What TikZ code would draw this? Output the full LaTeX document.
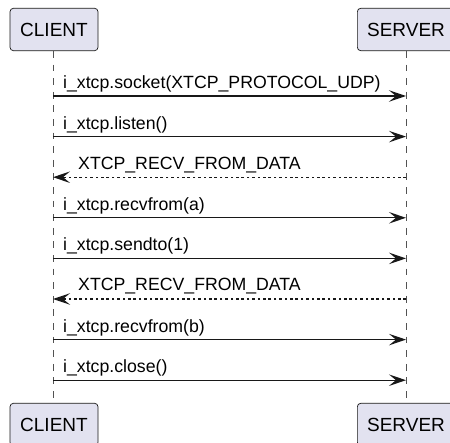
\documentclass[tikz,border=0pt]{standalone}
\usepackage{fontspec}
\setmainfont{Liberation Sans}
\usetikzlibrary{arrows.meta}
\definecolor{partfill}{HTML}{E2E2F0}
\definecolor{ink}{HTML}{181818}
\begin{document}
\begin{tikzpicture}[x=1pt,y=-1pt,
  part/.style={draw=ink, fill=partfill, line width=0.7pt, rounded corners=3.4pt,
    minimum width=88pt, minimum height=42.4pt, inner sep=0pt,
    font=\fontsize{19}{22}\selectfont},
  lifeline/.style={draw=ink!75, line width=0.7pt, dash pattern=on 6.8pt off 6.8pt},
  msg/.style={draw=ink, line width=1.36pt,
    -{Stealth[length=17pt,width=11.5pt,inset=7pt]}},
  ret/.style={msg, dash pattern=on 2.7pt off 2.7pt},
  lbl/.style={anchor=base west, inner sep=0pt, font=\fontsize{17.7}{20}\selectfont}]
\useasboundingbox (0,0) rectangle (450,443);

\node[part] (cTop) at (54,29.5) {CLIENT};
\node[part, minimum width=97.3pt] (sTop) at (406,29.5) {SERVER};
\node[part] (cBot) at (54,424.5) {CLIENT};
\node[part, minimum width=97.3pt] (sBot) at (406,424.5) {SERVER};

\coordinate (cA) at ([xshift=-1pt]cTop.south);
\coordinate (cB) at ([xshift=-1pt]cBot.north);
\draw[lifeline] (cA) -- (cB);
\draw[lifeline] (sTop.south) -- (sBot.north);

\foreach \i/\y in {1/96,2/136.6,3/177.2,4/217.8,5/258.4,6/299,7/339.6,8/380.2}{
  \coordinate (c\i) at (53,\y);
  \coordinate (s\i) at (406,\y);
}

\draw[msg] (c1) -- (s1);
\node[lbl] (m1) at ([xshift=10pt,yshift=7.5pt]c1) {i\_xtcp.socket(XTCP\_PROTOCOL\_UDP)};
\draw[msg] (c2) -- (s2);
\node[lbl] (m2) at ([xshift=10pt,yshift=7.5pt]c2) {i\_xtcp.listen()};
\draw[ret] (s3) -- (c3);
\node[lbl] (m3) at ([xshift=25pt,yshift=8pt]c3) {XTCP\_RECV\_FROM\_DATA};
\draw[msg] (c4) -- (s4);
\node[lbl] (m4) at ([xshift=10pt,yshift=7.5pt]c4) {i\_xtcp.recvfrom(a)};
\draw[msg] (c5) -- (s5);
\node[lbl] (m5) at ([xshift=10pt,yshift=7.5pt]c5) {i\_xtcp.sendto(1)};
\draw[ret] (s6) -- (c6);
\node[lbl] (m6) at ([xshift=25pt,yshift=8pt]c6) {XTCP\_RECV\_FROM\_DATA};
\draw[msg] (c7) -- (s7);
\node[lbl] (m7) at ([xshift=10pt,yshift=7.5pt]c7) {i\_xtcp.recvfrom(b)};
\draw[msg] (c8) -- (s8);
\node[lbl] (m8) at ([xshift=10pt,yshift=7.5pt]c8) {i\_xtcp.close()};
\end{tikzpicture}
\end{document}
